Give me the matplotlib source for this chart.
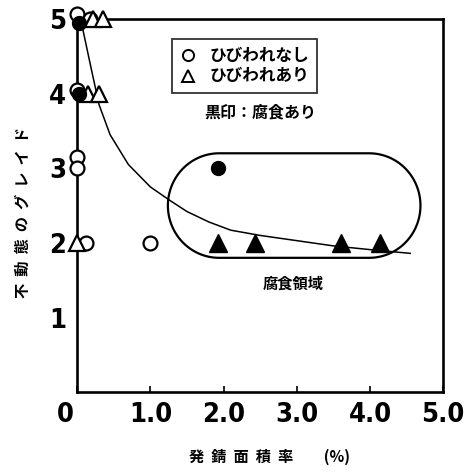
import numpy as np
import matplotlib.pyplot as plt
import matplotlib.transforms as mtransforms
from matplotlib.patches import PathPatch
from matplotlib.path import Path
from matplotlib.lines import Line2D

plt.rcParams['font.family'] = ['Noto Sans CJK JP', 'DejaVu Sans']

# open circles: no cracking, no corrosion
open_circ_x = [0.0, 0.18, 0.0, 0.0, 0.0, 0.12, 1.0]
open_circ_y = [5.07, 5.0, 4.05, 3.15, 3.0, 2.0, 2.0]
# open triangles: cracking, no corrosion
open_tri_x = [0.22, 0.35, 0.15, 0.3, 0.0]
open_tri_y = [5.0, 5.0, 4.0, 4.0, 2.0]
# filled circles: no cracking, corroded
fill_circ_x = [0.03, 0.03, 1.93]
fill_circ_y = [4.95, 4.0, 3.0]
# filled triangles: cracking, corroded
fill_tri_x = [1.93, 2.43, 3.61, 4.14]
fill_tri_y = [2.0, 2.0, 2.0, 2.0]

# trend curve read along its path
curve_x = [0.08, 0.2, 0.3, 0.45, 0.7, 1.0, 1.25, 1.5, 1.8, 2.1, 2.5, 3.0, 3.5, 4.0, 4.55]
curve_y = [4.85, 4.3, 3.85, 3.45, 3.05, 2.75, 2.58, 2.42, 2.28, 2.17, 2.10, 2.03, 1.96, 1.91, 1.86]

xticks = [0, 1, 2, 3, 4, 5]
xtick_labels = ['0', '1.0', '2.0', '3.0', '4.0', '5.0']
yticks = [1, 2, 3, 4, 5]
ytick_labels = ['1', '2', '3', '4', '5']

fig = plt.figure(figsize=(4.76, 4.72), dpi=100)
ax = fig.add_axes([0.162, 0.169, 0.769, 0.791])
ax.set_xlim(0, 5)
ax.set_ylim(0, 5)

ax.plot(curve_x, curve_y, color='black', lw=1.1, zorder=2)

# corrosion zone: a stadium (two half circles joined by straight sides)
x0, x1, yc, r = 1.24 + 0.7, 4.69 - 0.7, 2.5, 0.7
t = np.linspace(-np.pi / 2, np.pi / 2, 60)
right = np.column_stack([x1 + r * np.cos(t), yc + r * np.sin(t)])
left = np.column_stack([x0 - r * np.cos(t), yc - r * np.sin(t)])
verts = np.vstack([right, left, right[:1]])
ax.add_patch(PathPatch(Path(verts), fc='none', ec='black', lw=1.6, zorder=2))

mk = dict(clip_on=False, linestyle='none', zorder=3)
ax.plot(open_circ_x, open_circ_y, marker='o', ms=10, mfc='white', mec='black', mew=1.6, **mk)
ax.plot(open_tri_x, open_tri_y, marker='^', ms=11, mfc='white', mec='black', mew=1.6, **mk)
ax.plot(fill_circ_x, fill_circ_y, marker='o', ms=10, mfc='black', mec='black', **mk)
ax.plot(fill_tri_x, fill_tri_y, marker='^', ms=13, mfc='black', mec='black', **mk)

for s in ax.spines.values():
    s.set_linewidth(1.9)

ax.set_xticks(xticks)
ax.set_xticklabels(xtick_labels)
ax.set_yticks(yticks)
ax.set_yticklabels(ytick_labels)
ax.tick_params(axis='x', direction='in', length=4, width=1.2, pad=7)
ax.tick_params(axis='y', direction='in', length=0, pad=8)
for lab in ax.get_xticklabels() + ax.get_yticklabels():
    lab.set_family(['DejaVu Sans'])
    lab.set_fontstretch('condensed')
    lab.set_fontweight('bold')
    lab.set_fontsize(19.5)
# shift the origin label left of the spine
zero = ax.get_xticklabels()[0]
zero.set_transform(zero.get_transform() +
                   mtransforms.ScaledTranslation(-12 / 100, 0, fig.dpi_scale_trans))

handles = [Line2D([], [], marker='o', ls='none', ms=8, mfc='white', mec='black', mew=1.4),
           Line2D([], [], marker='^', ls='none', ms=9, mfc='white', mec='black', mew=1.4)]
leg = ax.legend(handles, ['ひびわれなし', 'ひびわれあり'], loc='upper left',
                bbox_to_anchor=(0.26, 0.945), frameon=True, fancybox=False,
                prop={'weight': 'bold', 'size': 12}, handletextpad=0.8,
                handlelength=1.0, borderpad=0.45, labelspacing=0.15, borderaxespad=0)
leg.get_frame().set_edgecolor('black')
leg.get_frame().set_linewidth(1.3)

ax.text(2.5, 3.75, '黒印：腐食あり', ha='center', va='center', fontsize=11.5, fontweight='bold')
ax.text(2.95, 1.46, '腐食領域', ha='center', va='center', fontsize=11, fontweight='bold')

fig.text(0.047, 0.55, '不  動  態  の  グ  レ  イ  ド', rotation=90, ha='center', va='center',
         fontsize=11, fontweight='bold')
fig.text(0.567, 0.032, '発  錆  面  積  率　　(%)', ha='center', va='center',
         fontsize=11, fontweight='bold')

fig.savefig('out.png', dpi=100)
